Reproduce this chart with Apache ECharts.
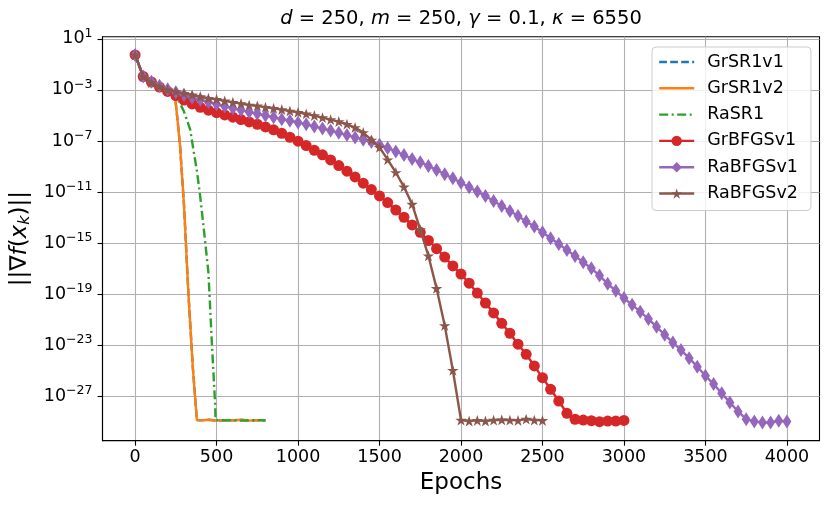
<!DOCTYPE html>
<html>
<head>
<meta charset="utf-8">
<title>gradient norm vs epochs</title>
<script src="https://cdn.jsdelivr.net/npm/echarts@6/dist/echarts.min.js"></script>
<style>html,body{margin:0;padding:0;background:#fff}</style>
</head>
<body>
<div id="main" style="width:830px;height:507px"></div>
<script>
// values are stored as exponents: ||grad|| = 10^exp
// the marker curves are sampled every 50 epochs
var markStep = 50;

var grsr1Epochs = [0, 50, 100, 150, 200, 246, 260, 276, 300, 327, 354, 379, 400, 450, 500, 550, 600, 650, 700, 750, 800];
var grsr1v1Exp = [-0.26, -1.95, -2.40, -2.74, -3.02, -3.60, -5.30, -7.40, -12.00, -18.90, -24.70, -28.87, -28.90, -28.85, -28.92, -28.88, -28.90, -28.85, -28.92, -28.88, -28.90];
var grsr1v2Exp = [-0.26, -1.95, -2.40, -2.74, -3.02, -3.60, -5.30, -7.40, -12.00, -18.90, -24.70, -28.87, -28.90, -28.85, -28.92, -28.88, -28.90, -28.85, -28.92, -28.88, -28.90];

var rasr1Epochs = [0, 50, 100, 150, 200, 250, 276, 300, 338, 358, 380, 400, 425, 450, 471, 491, 494, 550, 600, 650, 700, 750, 800];
var rasr1Exp = [-0.26, -1.95, -2.40, -2.74, -3.02, -3.45, -4.05, -4.70, -6.10, -7.70, -9.40, -11.40, -14.30, -17.30, -22.80, -27.60, -28.87, -28.90, -28.88, -28.92, -28.90, -28.88, -28.90];

var grbfgsv1Exp = [
  -0.26, -1.95, -2.38, -2.78, -3.12, -3.44, -3.80, -4.10, -4.36, -4.59, -4.78,
  -4.96, -5.14, -5.32, -5.51, -5.69, -5.90, -6.13, -6.40, -6.71, -7.02,
  -7.36, -7.73, -8.09, -8.49, -8.93, -9.37, -9.82, -10.31, -10.81, -11.31,
  -11.83, -12.41, -12.98, -13.58, -14.16, -14.80, -15.44, -16.10, -16.79, -17.43,
  -18.15, -18.92, -19.70, -20.48, -21.29, -22.07, -22.93, -23.72, -24.63, -25.55,
  -26.46, -27.38, -28.34, -28.81, -28.87, -28.92, -29.00, -28.95, -28.95, -28.90
];

var rabfgsv1Exp = [
  -0.26, -1.95, -2.36, -2.68, -2.94, -3.18, -3.40, -3.60, -3.78, -3.95, -4.12,
  -4.28, -4.43, -4.58, -4.73, -4.87, -5.01, -5.15, -5.29, -5.42, -5.55,
  -5.70, -5.86, -6.02, -6.19, -6.36, -6.54, -6.72, -6.90, -7.08, -7.30,
  -7.55, -7.82, -8.10, -8.41, -8.67, -8.96, -9.27, -9.61, -9.93, -10.27,
  -10.63, -10.97, -11.31, -11.70, -12.09, -12.49, -12.88, -13.32, -13.71, -14.16,
  -14.63, -15.07, -15.54, -16.01, -16.51, -16.98, -17.55, -18.20, -18.74, -19.31,
  -19.84, -20.38, -20.96, -21.56, -22.19, -22.79, -23.39, -24.02, -24.69, -25.40,
  -26.05, -26.78, -27.49, -28.20, -28.80, -28.98, -29.06, -29.06, -28.93, -28.98
];

var rabfgsv2Exp = [
  -0.26, -1.95, -2.42, -2.74, -3.00, -3.13, -3.26, -3.39, -3.52, -3.65, -3.73,
  -3.86, -3.97, -4.07, -4.18, -4.25, -4.36, -4.44, -4.54, -4.65, -4.75,
  -4.88, -5.01, -5.17, -5.33, -5.48, -5.69, -5.95, -6.34, -6.92, -7.50,
  -8.47, -9.47, -10.60, -11.95, -13.95, -16.00, -18.55, -21.46, -24.97, -28.87,
  -28.95, -28.90, -28.95, -28.88, -28.85, -28.88, -28.90, -28.80, -28.88, -28.90
];

var xTicks = [0, 500, 1000, 1500, 2000, 2500, 3000, 3500, 4000];
var yTickExps = [-27, -23, -19, -15, -11, -7, -3, 1];
var yExpRange = [-30.49, 1.17];

var font = 'DejaVu Sans';
var starPath = 'path://M0,-100L22.45,-30.9L95.1,-30.9L36.3,11.8L58.8,80.9L0,38.2L-58.8,80.9L-36.3,11.8L-95.1,-30.9L-22.45,-30.9Z';

function pairs(xs, exps) {
  return xs.map(function (x, i) { return [x, Math.pow(10, exps[i])]; });
}
function stepped(exps) {
  return exps.map(function (e, i) { return [i * markStep, Math.pow(10, e)]; });
}
function supLabel(v) {
  var e = Math.round(Math.log10(v));
  return '{b|10}{s|' + (e < 0 ? '\u2212' + (-e) : e) + '}';
}

var yTickVals = yTickExps.map(function (e) { return Math.pow(10, e); });

function lineSeries(name, color, data, z, extra) {
  var s = {
    name: name, type: 'line', data: data, z: z,
    color: color,
    symbol: 'none',
    showAllSymbol: true,
    lineStyle: { color: color, width: 2.4 },
    itemStyle: { color: color },
    emphasis: { disabled: true }
  };
  for (var k in extra) s[k] = extra[k];
  if (extra.lineType) { s.lineStyle.type = extra.lineType; delete s.lineType; }
  return s;
}

var chart = echarts.init(document.getElementById('main'));
chart.setOption({
  animation: false,
  backgroundColor: '#fff',
  title: {
    text: '{i|d} = 250, {i|m} = 250, {i|\u03b3} = 0.1, {i|\u03ba} = 6550',
    left: 461, top: 9, textAlign: 'center', padding: 0,
    textStyle: {
      fontFamily: font, fontSize: 19.5, fontWeight: 'normal', color: '#000',
      rich: { i: { fontFamily: font, fontSize: 19.5, fontStyle: 'italic', color: '#000' } }
    }
  },
  grid: {
    left: 102.5, right: 10.5, top: 36.7, bottom: 66.3,
    show: true, borderColor: '#000', borderWidth: 1.1
  },
  legend: {
    orient: 'vertical', left: 652, top: 47,
    padding: [6, 13, 8, 6],
    itemWidth: 35, itemHeight: 13, itemGap: 8.3,
    backgroundColor: 'rgba(255,255,255,0.8)',
    borderColor: '#cccccc', borderWidth: 1, borderRadius: 4,
    selectedMode: false,
    lineStyle: { width: 2.4 },
    textStyle: { fontFamily: font, fontSize: 17.5, color: '#000', lineHeight: 18, padding: [0, 0, 0, 8] },
    data: [
      { name: 'GrSR1v1', itemStyle: { color: 'rgba(0,0,0,0)', borderWidth: 0 } },
      { name: 'GrSR1v2', itemStyle: { color: 'rgba(0,0,0,0)', borderWidth: 0 } },
      { name: 'RaSR1', itemStyle: { color: 'rgba(0,0,0,0)', borderWidth: 0 } },
      { name: 'GrBFGSv1' },
      { name: 'RaBFGSv1' },
      { name: 'RaBFGSv2' }
    ]
  },
  xAxis: {
    type: 'value', min: -200, max: 4200,
    name: 'Epochs', nameLocation: 'middle', nameGap: 30,
    nameTextStyle: { fontFamily: font, fontSize: 23, color: '#000' },
    axisLine: { onZero: false, lineStyle: { color: '#000', width: 1.1 } },
    axisTick: { customValues: xTicks, length: 5, lineStyle: { color: '#000', width: 1.1 } },
    axisLabel: {
      customValues: xTicks, margin: 8, fontFamily: font, fontSize: 17.5, color: '#000',
      formatter: function (v) { return String(v); }
    },
    splitLine: { show: true, lineStyle: { color: '#b0b0b0', width: 1.1 } }
  },
  yAxis: {
    type: 'log',
    min: Math.pow(10, yExpRange[0]), max: Math.pow(10, yExpRange[1]),
    name: '||\u2207{i|f}({i|x}{k|k})||', nameLocation: 'middle', nameGap: 55,
    nameTextStyle: {
      fontFamily: font, fontSize: 23, color: '#000',
      rich: {
        i: { fontFamily: font, fontSize: 23, fontStyle: 'italic', color: '#000' },
        k: { fontFamily: font, fontSize: 16, fontStyle: 'italic', color: '#000', padding: [9, 0, 0, 0] }
      }
    },
    axisLine: { onZero: false, lineStyle: { color: '#000', width: 1.1 } },
    axisTick: { customValues: yTickVals, length: 5, lineStyle: { color: '#000', width: 1.1 } },
    axisLabel: {
      customValues: yTickVals, margin: 10, formatter: supLabel,
      rich: {
        b: { fontFamily: font, fontSize: 17.5, color: '#000' },
        s: { fontFamily: font, fontSize: 12.5, color: '#000', padding: [0, 0, 11, 0] }
      }
    },
    splitLine: { show: true, lineStyle: { color: '#b0b0b0', width: 1.1 } }
  },
  series: [
    lineSeries('GrSR1v1', '#1f77b4', pairs(grsr1Epochs, grsr1v1Exp), 2, { lineType: [7.7, 3.3] }),
    lineSeries('GrSR1v2', '#ff7f0e', pairs(grsr1Epochs, grsr1v2Exp), 3, {}),
    lineSeries('RaSR1', '#2ca02c', pairs(rasr1Epochs, rasr1Exp), 4, { lineType: [9, 3.5, 2, 3.5] }),
    lineSeries('GrBFGSv1', '#d62728', stepped(grbfgsv1Exp), 5, { symbol: 'circle', symbolSize: 11 }),
    lineSeries('RaBFGSv1', '#9467bd', stepped(rabfgsv1Exp), 6, { symbol: 'diamond', symbolSize: [9, 14] }),
    lineSeries('RaBFGSv2', '#8c564b', stepped(rabfgsv2Exp), 7, { symbol: starPath, symbolSize: 11.5, symbolKeepAspect: true })
  ]
});
</script>
</body>
</html>
